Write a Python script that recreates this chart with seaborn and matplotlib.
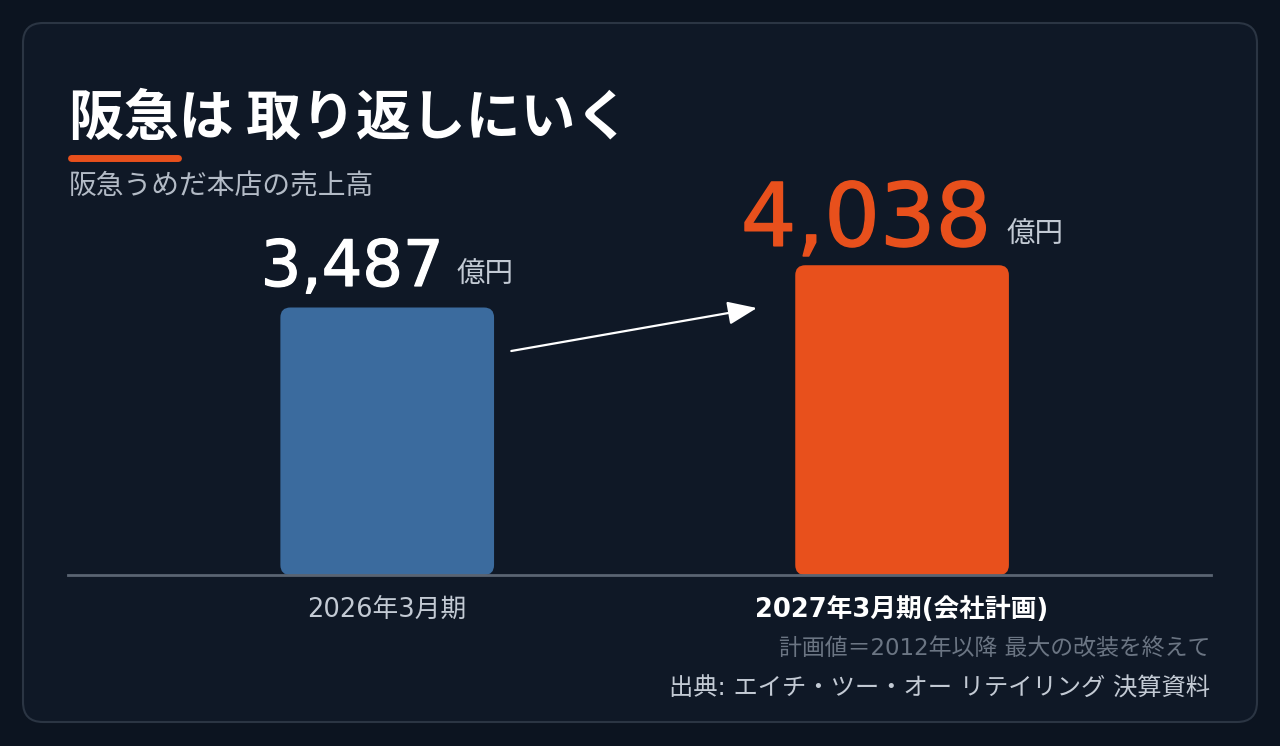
import matplotlib
matplotlib.use("Agg")
import matplotlib.pyplot as plt
import matplotlib.patheffects as pe
import seaborn as sns
import pandas as pd
from matplotlib.patches import FancyBboxPatch
from matplotlib.transforms import IdentityTransform

# データ
periods = ["2026年3月期", "2027年3月期(会社計画)"]
sales = [3487, 4038]
value_labels = ["3,487", "4,038"]
unit_label = "億円"

title_text = "阪急は 取り返しにいく"
subtitle_text = "阪急うめだ本店の売上高"
note_text = "計画値＝2012年以降 最大の改装を終えて"
source_text = "出典: エイチ・ツー・オー リテイリング 決算資料"

# 色
BG = "#0c1420"
CARD = "#0f1826"
BORDER = "#2b3543"
BLUE = "#3b6b9e"
ORANGE = "#e8501c"
LIGHT = "#c3cad4"
DIM = "#6b7583"

sns.set_theme(style="white")
# 英数字は DejaVu Sans、和文は Noto Sans CJK JP
FONTS = ["DejaVu Sans", "Noto Sans CJK JP"]
plt.rcParams["font.family"] = FONTS

W, H = 1280, 746
fig = plt.figure(figsize=(W / 100, H / 100), dpi=100, facecolor=BG)

# 背景カード用の軸（ピクセル座標）
bg = fig.add_axes([0, 0, 1, 1], zorder=0)
bg.set_xlim(0, W)
bg.set_ylim(H, 0)
bg.axis("off")
bg.add_patch(FancyBboxPatch((23, 23), 1234, 699, boxstyle="round,pad=0,rounding_size=20",
                            facecolor=CARD, edgecolor=BORDER, linewidth=1.5))

bg.text(69, 118, title_text, color="white", fontsize=39.5, fontweight="bold",
        family="Noto Sans CJK JP", ha="left", va="center")
bg.plot([71, 178], [158, 158], color=ORANGE, linewidth=5, solid_capstyle="round")
bg.text(69, 186, subtitle_text, color="#b3bbc6", fontsize=20, ha="left", va="center")
bg.text(1210, 648, note_text, color=DIM, fontsize=16.5, ha="right", va="center")
bg.text(1210, 689, source_text, color=LIGHT, fontsize=17.5, ha="right", va="center")

# 棒グラフ
df = pd.DataFrame({"period": periods, "sales": sales})
ax = fig.add_axes([68 / W, (H - 575) / H, (1211 - 68) / W, 425 / H], zorder=1)
ax.patch.set_alpha(0)
sns.barplot(data=df, x="period", y="sales", hue="period", saturation=1,
            palette=[BLUE, ORANGE], width=0.415, legend=False, ax=ax)
ax.set_xlim(-0.62, 1.60)
ax.set_ylim(0, 5540)

# 角丸の棒に置き換える（位置は棒のデータ座標から算出）
fig.canvas.draw()
for p in list(ax.patches):
    (x0, y0), (x1, y1) = ax.transData.transform([(p.get_x(), p.get_y()),
                                                 (p.get_x() + p.get_width(), p.get_y() + p.get_height())])
    color = p.get_facecolor()
    p.set_visible(False)
    ax.add_patch(FancyBboxPatch((x0, y0), x1 - x0, y1 - y0,
                                boxstyle="round,pad=0,rounding_size=10",
                                transform=IdentityTransform(),
                                facecolor=color, edgecolor="none", zorder=2))

for s in ["left", "right", "top"]:
    ax.spines[s].set_visible(False)
ax.spines["bottom"].set_color("#5a6472")
ax.spines["bottom"].set_linewidth(2)
ax.spines["bottom"].set_zorder(3)
ax.set_yticks([])
ax.set_xlabel("")
ax.set_ylabel("")
ax.tick_params(axis="x", length=0, pad=16)
ax.set_xticks(range(len(periods)))
ax.set_xticklabels(periods, fontsize=18.5)
ticks = ax.get_xticklabels()
ticks[0].set_color(LIGHT)
ticks[1].set_color("white")
ticks[1].set_fontweight("bold")

# 値ラベル（数字＋単位をまとめて棒の中央に）
num_sizes = [46, 63]
num_colors = ["white", ORANGE]
num_strokes = [0.9, 1.1]
gaps_px = [13, 15]
lifts_pt = [15.5, 14]
renderer = fig.canvas.get_renderer()
for i, (lab, val) in enumerate(zip(value_labels, sales)):
    t_num = ax.annotate(lab, xy=(i, val), xytext=(0, lifts_pt[i]), textcoords="offset points",
                        ha="left", va="baseline", fontsize=num_sizes[i],
                        color=num_colors[i], zorder=4,
                        path_effects=[pe.withStroke(linewidth=num_strokes[i], foreground=num_colors[i])])
    t_unit = ax.annotate(unit_label, xy=(i, val), xytext=(0, lifts_pt[i] + 2), textcoords="offset points",
                         ha="left", va="baseline", fontsize=20.5, color=LIGHT, zorder=4)
    wn = t_num.get_window_extent(renderer).width
    wu = t_unit.get_window_extent(renderer).width
    total = wn + gaps_px[i] + wu
    left_pt = -total / 2 * 72 / 100
    t_num.set_position((left_pt, lifts_pt[i]))
    t_unit.set_position((left_pt + (wn + gaps_px[i]) * 72 / 100, lifts_pt[i] + 2))

# 矢印
ax.annotate("", xy=(0.718, 3480), xytext=(0.241, 2920),
            arrowprops=dict(arrowstyle="-|>,head_length=1.5,head_width=0.6",
                            color="white", lw=1.6, shrinkA=0, shrinkB=0), zorder=4)

fig.savefig("out.png", dpi=100, facecolor=BG)
